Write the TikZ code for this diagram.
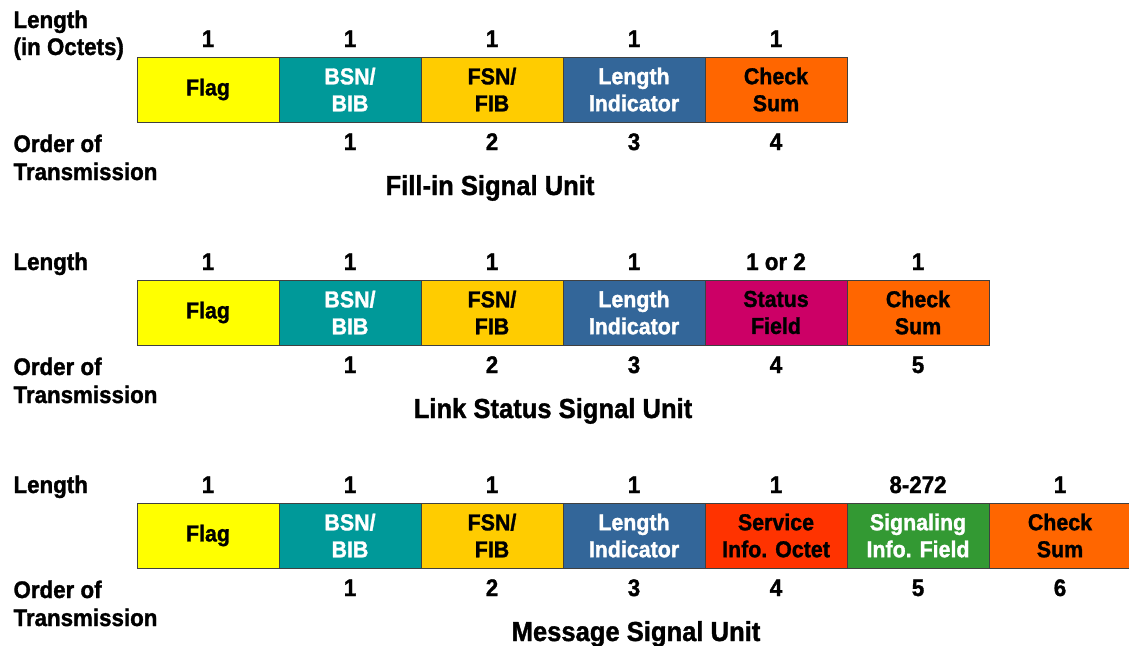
\documentclass[tikz,border=0pt]{standalone}
\usepackage{fontspec}
\setmainfont{Liberation Sans}[FakeStretch=0.93, BoldFeatures={FakeBold=1.3}]
\definecolor{cFlag}{HTML}{FFFF00}
\definecolor{cBSN}{HTML}{009999}
\definecolor{cFSN}{HTML}{FFCC00}
\definecolor{cLI}{HTML}{336699}
\definecolor{cCS}{HTML}{FF6600}
\definecolor{cSF}{HTML}{CC0066}
\definecolor{cSIO}{HTML}{FF3300}
\definecolor{cSIF}{HTML}{339933}
\newcommand\boxfont{\fontsize{23}{27}\selectfont\bfseries}
\newcommand\lblfont{\fontsize{24}{29}\selectfont\bfseries}
\newcommand\capfont{\fontsize{27.5}{32}\selectfont\bfseries}
\tikzset{
  cell/.style={draw=black!75, line width=0.8pt, minimum width=142pt, minimum height=65pt,
    inner sep=0pt, outer sep=0pt, align=center, font=\boxfont},
  wtxt/.style={text=white},
  lbl/.style={anchor=base west, align=left, font=\lblfont},
  num/.style={anchor=base, font=\lblfont},
  captxt/.style={anchor=base, font=\capfont}
}
\begin{document}
\begin{tikzpicture}[x=1pt,y=-1pt]
\useasboundingbox (0,0) rectangle (1129,645);
% ---------- Row 1: Fill-in Signal Unit ----------
\node[lbl] (l1a) at (10,28) {Length};
\node[lbl] (l1b) at (10,55) {(in Octets)};
\node[cell, fill=cFlag] (a1) at (208,89.5) {Flag};
\node[cell, fill=cBSN, wtxt] (a2) at (350,89.5) {BSN/\\BIB};
\node[cell, fill=cFSN] (a3) at (492,89.5) {FSN/\\FIB};
\node[cell, fill=cLI, wtxt] (a4) at (634,89.5) {Length\\Indicator};
\node[cell, fill=cCS] (a5) at (776,89.5) {Check\\Sum};
\foreach \b/\t in {a1/1,a2/1,a3/1,a4/1,a5/1}
  \node[num] (n\b) at ([yshift=10pt]\b.north) {\t};
\foreach \b/\t in {a2/1,a3/2,a4/3,a5/4}
  \node[num] (o\b) at ([yshift=-28pt]\b.south) {\t};
\node[lbl] (t1a) at (10,152) {Order of};
\node[lbl] (t1b) at (10,180) {Transmission};
\node[captxt] (cap1) at (490,195) {Fill-in Signal Unit};
% ---------- Row 2: Link Status Signal Unit ----------
\node[lbl] (l2a) at (10,270) {Length};
\node[cell, fill=cFlag] (b1) at (208,312.5) {Flag};
\node[cell, fill=cBSN, wtxt] (b2) at (350,312.5) {BSN/\\BIB};
\node[cell, fill=cFSN] (b3) at (492,312.5) {FSN/\\FIB};
\node[cell, fill=cLI, wtxt] (b4) at (634,312.5) {Length\\Indicator};
\node[cell, fill=cSF] (b5) at (776,312.5) {Status\\Field};
\node[cell, fill=cCS] (b6) at (918,312.5) {Check\\Sum};
\foreach \b/\t in {b1/1,b2/1,b3/1,b4/1,b5/1 or 2,b6/1}
  \node[num] (n\b) at ([yshift=10pt]\b.north) {\t};
\foreach \b/\t in {b2/1,b3/2,b4/3,b5/4,b6/5}
  \node[num] (o\b) at ([yshift=-28pt]\b.south) {\t};
\node[lbl] (t2a) at (10,375) {Order of};
\node[lbl] (t2b) at (10,403) {Transmission};
\node[captxt] (cap2) at (553,418) {Link Status Signal Unit};
% ---------- Row 3: Message Signal Unit ----------
\node[lbl] (l3a) at (10,493) {Length};
\node[cell, fill=cFlag] (c1) at (208,535.5) {Flag};
\node[cell, fill=cBSN, wtxt] (c2) at (350,535.5) {BSN/\\BIB};
\node[cell, fill=cFSN] (c3) at (492,535.5) {FSN/\\FIB};
\node[cell, fill=cLI, wtxt] (c4) at (634,535.5) {Length\\Indicator};
\node[cell, fill=cSIO] (c5) at (776,535.5) {Service\\Info. Octet};
\node[cell, fill=cSIF, wtxt] (c6) at (918,535.5) {Signaling\\Info. Field};
\node[cell, fill=cCS] (c7) at (1060,535.5) {Check\\Sum};
\foreach \b/\t in {c1/1,c2/1,c3/1,c4/1,c5/1,c6/8-272,c7/1}
  \node[num] (n\b) at ([yshift=10pt]\b.north) {\t};
\foreach \b/\t in {c2/1,c3/2,c4/3,c5/4,c6/5,c7/6}
  \node[num] (o\b) at ([yshift=-28pt]\b.south) {\t};
\node[lbl] (t3a) at (10,598) {Order of};
\node[lbl] (t3b) at (10,626) {Transmission};
\node[captxt] (cap3) at (636,641) {Message Signal Unit};
\end{tikzpicture}
\end{document}
